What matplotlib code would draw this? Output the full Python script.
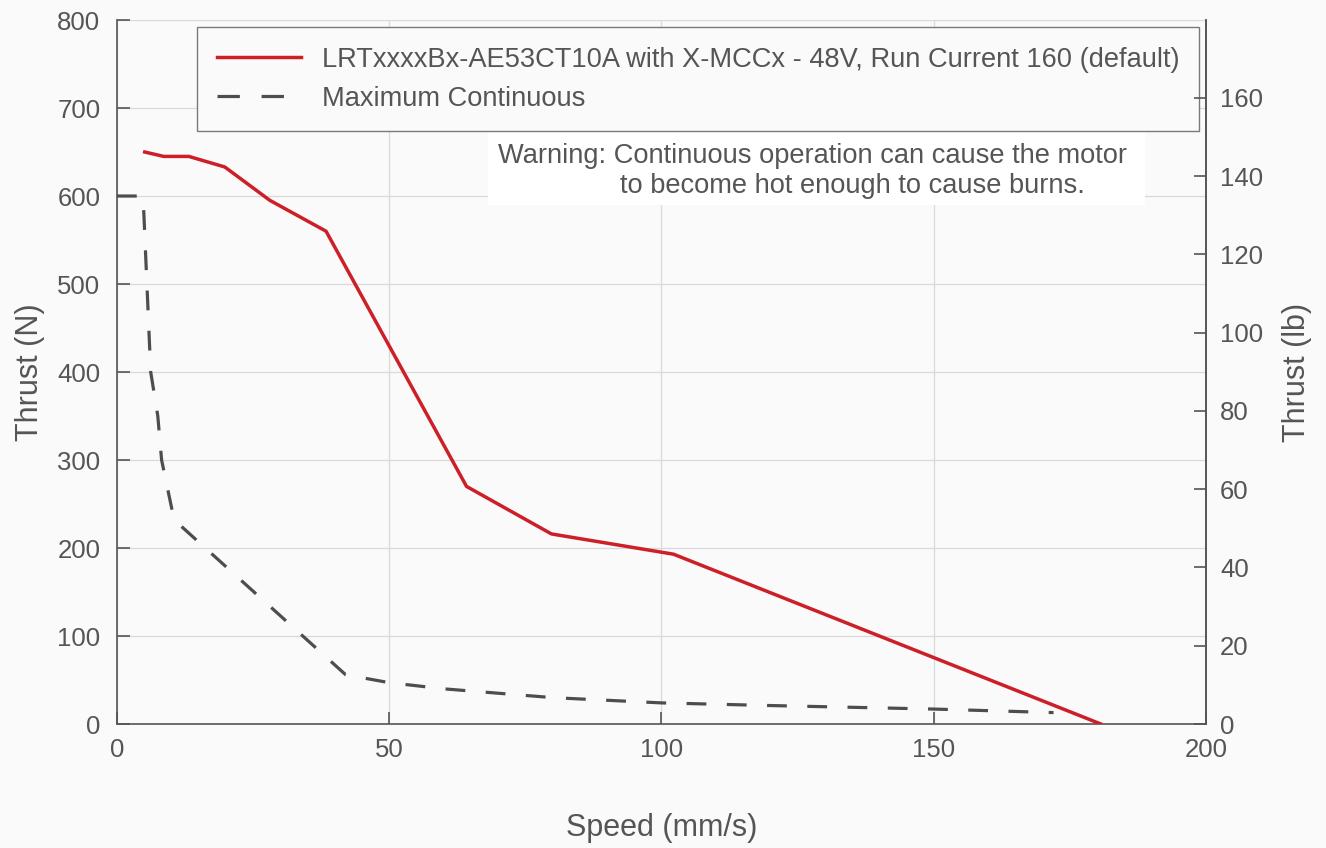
import numpy as np
from matplotlib import pyplot as plt
from matplotlib.patches import Rectangle

plt.rcParams['font.family'] = ['Liberation Sans', 'DejaVu Sans']

# ---- data ----
speed_run = [5.1, 8.6, 13.2, 19.8, 28.1, 38.4, 64.2, 79.8, 102.2, 180.7]
thrust_run = [650, 645, 645, 633, 595, 560, 270, 216, 193, 0]

speed_cont = [0, 4.8, 5.5, 6.2, 7.5, 8.2, 10.5, 42.0, 50, 60, 80, 100, 120, 150, 172]
thrust_cont = [600, 600, 500, 400, 350, 300, 232, 56, 47, 40, 30, 24, 21, 17, 13]

run_label = 'LRTxxxxBx-AE53CT10A with X-MCCx - 48V, Run Current 160 (default)'
cont_label = 'Maximum Continuous'
warn1 = 'Warning: Continuous operation can cause the motor'
warn2 = 'to become hot enough to cause burns.'
N_PER_LB = 4.448

bg = '#fafafa'
txt = '#555555'
spine = '#555555'

fig = plt.figure(figsize=(13.26, 8.48), dpi=100, facecolor=bg)
ax = fig.add_axes([0.0882, 0.1462, 0.8213, 0.8302])
ax.set_facecolor(bg)

ax.plot(speed_run, thrust_run, color='#cc1f27', lw=2.5, label=run_label, zorder=3)
ax.plot(speed_cont, thrust_cont, color='#4d4d4d', lw=2.3, linestyle=(0, (6.2, 6.4)),
        label=cont_label, zorder=3)

ax.set_xlim(0, 200)
ax.set_ylim(0, 800)
ax.set_xticks(np.arange(0, 201, 50))
ax.set_yticks(np.arange(0, 801, 100))
ax.grid(True, color='#d9d9d9', lw=0.9)
ax.set_axisbelow(True)

for s in ['left', 'bottom', 'right']:
    ax.spines[s].set_color(spine)
    ax.spines[s].set_linewidth(1.2)
ax.spines['top'].set_visible(False)
ax.tick_params(direction='in', length=9, width=1.2, color=spine, labelsize=18.5,
               labelcolor=txt, pad=12)
ax.tick_params(axis='x', pad=10)

ax.set_xlabel('Speed (mm/s)', fontsize=22, color=txt, labelpad=37)
ax.set_ylabel('Thrust (N)', fontsize=22, color=txt, labelpad=9)

ax2 = ax.twinx()
ax2.set_ylim(0, 800 / N_PER_LB)
ax2.set_yticks(np.arange(0, 161, 20))
ax2.spines['top'].set_visible(False)
ax2.spines['right'].set_color(spine)
ax2.spines['right'].set_linewidth(1.2)
ax2.spines['left'].set_visible(False)
ax2.spines['bottom'].set_visible(False)
ax2.tick_params(direction='in', length=9, width=1.2, color=spine, labelsize=18.5,
                labelcolor=txt, pad=10)
ax2.set_ylabel('Thrust (lb)', fontsize=22, color=txt, labelpad=14)

leg = ax.legend(loc='upper right', bbox_to_anchor=(0.9936, 0.990), borderaxespad=0,
                fontsize=19.6, frameon=True, fancybox=False, edgecolor='#7a7a7a',
                facecolor=bg, framealpha=1, handlelength=3.1, borderpad=0.72,
                labelspacing=0.48, handletextpad=0.75)
leg.get_frame().set_linewidth(1.0)
for t in leg.get_texts():
    t.set_color(txt)
leg.get_lines()[1].set_linestyle((0, (7, 6.8)))
leg.set_zorder(5)

# white patch behind the warning note
ax.add_patch(Rectangle((0.3407, 0.7372), 0.6033, 0.1066, transform=ax.transAxes,
                       facecolor='white', edgecolor='none', zorder=2))
ax.text(0.3499, 0.7969, warn1, transform=ax.transAxes, ha='left', va='baseline',
        fontsize=19.6, color=txt, zorder=4)
ax.text(0.4619, 0.7543, warn2, transform=ax.transAxes, ha='left', va='baseline',
        fontsize=19.6, color=txt, zorder=4)

plt.savefig('out.png', dpi=100, facecolor=bg)
